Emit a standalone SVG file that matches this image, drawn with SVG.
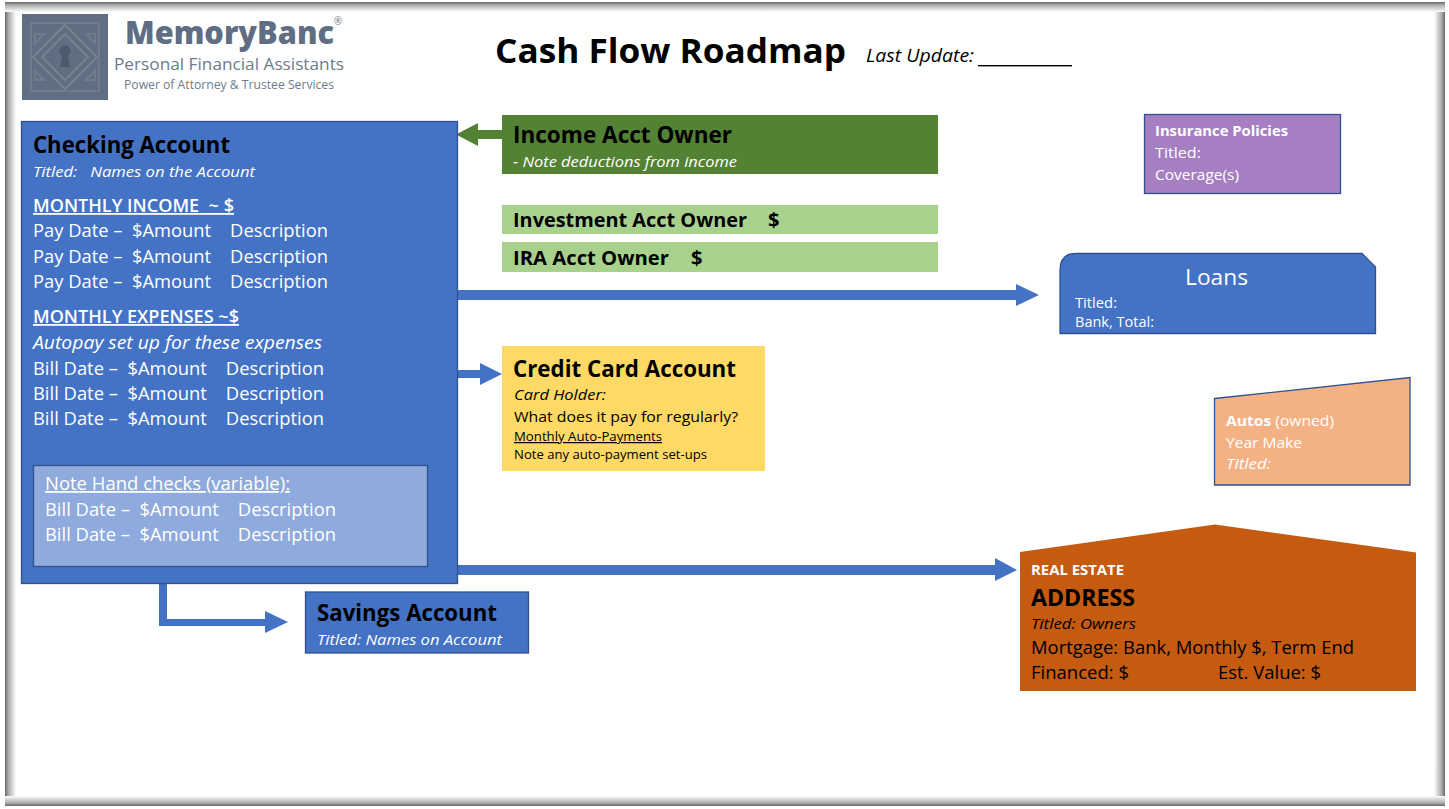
<svg xmlns="http://www.w3.org/2000/svg" width="1449" height="809" viewBox="0 0 1449 809">
<style>
text{font-family:"Open Sans","Noto Sans","Liberation Sans",sans-serif;white-space:pre}
.w{fill:#fff}.k{fill:#000}.i{font-style:italic}.b{font-weight:600}.u{text-decoration:underline}
.s19{font-size:18px}.s16{font-size:15px}.s14{font-size:14px}.s24{font-size:23px;font-weight:700}
.blue{fill:#4472c4;stroke:#2f528f;stroke-width:1.3}
.conn{fill:#4472c4}
.logo{fill:none;stroke:#76838f;stroke-width:2}
</style>
<defs>
<linearGradient id="gl" x1="0" x2="1" y1="0" y2="0"><stop offset="0" stop-color="#666"/><stop offset=".3" stop-color="#aaa"/><stop offset="1" stop-color="#fff"/></linearGradient>
<linearGradient id="gr" x1="1" x2="0" y1="0" y2="0"><stop offset="0" stop-color="#666"/><stop offset=".3" stop-color="#aaa"/><stop offset="1" stop-color="#fff"/></linearGradient>
<linearGradient id="gt" x1="0" x2="0" y1="0" y2="1"><stop offset="0" stop-color="#666"/><stop offset=".3" stop-color="#aaa"/><stop offset="1" stop-color="#fff"/></linearGradient>
<linearGradient id="gb" x1="0" x2="0" y1="1" y2="0"><stop offset="0" stop-color="#666"/><stop offset=".3" stop-color="#aaa"/><stop offset="1" stop-color="#fff"/></linearGradient>
</defs>
<rect width="1449" height="809" fill="#fff"/>
<g id="frame">
<rect x="5" y="2" width="11" height="804" fill="url(#gl)"/>
<rect x="1434" y="2" width="11" height="804" fill="url(#gr)"/>
<rect x="5" y="2" width="1440" height="10" fill="url(#gt)"/>
<rect x="5" y="796" width="1440" height="10" fill="url(#gb)"/>
</g>
<g id="logo">
<rect x="22" y="14" width="86" height="86" fill="#5f6e82"/>
<rect x="31" y="23" width="68" height="68" class="logo" opacity=".6"/>
<path d="M65 25L97 57L65 89L33 57Z" class="logo"/>
<path d="M65 34L88 57L65 80L42 57Z" class="logo"/>
<path d="M44 34H35V43ZM86 34H95V43ZM44 80H35V71ZM86 80H95V71Z" class="logo" opacity=".7"/>
<circle cx="65" cy="51" r="5.500" fill="#4d5a6b"/><path d="M62.500 54H67.500L70 67H60Z" fill="#4d5a6b"/>
<text x="125" y="44" font-size="32" font-weight="800" fill="#5f6e82" textLength="217" lengthAdjust="spacingAndGlyphs">MemoryBanc<tspan font-size="10" font-weight="400" dy="-19">®</tspan></text>
<text x="114" y="70" font-size="17" fill="#6d7b8c" textLength="230" lengthAdjust="spacingAndGlyphs">Personal Financial Assistants</text>
<text x="124" y="89" font-size="12" fill="#6d7b8c" textLength="210" lengthAdjust="spacingAndGlyphs">Power of Attorney &amp; Trustee Services</text>
</g>
<g id="title">
<text x="495" y="63" font-size="34" font-weight="700" class="k" textLength="351" lengthAdjust="spacingAndGlyphs">Cash Flow Roadmap</text>
<text x="866" y="62" font-size="18" class="k i" textLength="108" lengthAdjust="spacingAndGlyphs">Last Update:</text>
<rect x="978" y="65" width="94" height="1.400" fill="#000"/>
</g>
<g id="connectors">
<path class="conn" d="M457 290H1016V284L1039 295L1016 306V300H457Z"/>
<path class="conn" d="M457 370H480V363L502 374L480 385V378H457Z"/>
<path class="conn" d="M457 565H995V558L1017 570L995 581V575H457Z"/>
<path class="conn" d="M159 583H167V619H265V611L288 622L265 633V626H159Z"/>
<path fill="#548235" d="M502 130H478V123L456 134.500L478 146V139H502Z"/>
</g>
<g id="checking">
<rect class="blue" x="21.500" y="121.500" width="436" height="462"/>
<text x="33" y="153" class="k s24" textLength="197" lengthAdjust="spacingAndGlyphs">Checking Account</text>
<text x="33" y="177" class="w i s16" textLength="222" lengthAdjust="spacingAndGlyphs">Titled:   Names on the Account</text>
<text x="33" y="212" class="w b u s19" textLength="201" lengthAdjust="spacingAndGlyphs">MONTHLY INCOME  ~ $</text>
<text x="33" y="237" class="w s19" textLength="295" lengthAdjust="spacingAndGlyphs">Pay Date –  $Amount    Description</text>
<text x="33" y="262.500" class="w s19" textLength="295" lengthAdjust="spacingAndGlyphs">Pay Date –  $Amount    Description</text>
<text x="33" y="287.500" class="w s19" textLength="295" lengthAdjust="spacingAndGlyphs">Pay Date –  $Amount    Description</text>
<text x="33" y="323" class="w b u s19" textLength="206" lengthAdjust="spacingAndGlyphs">MONTHLY EXPENSES ~$</text>
<text x="33" y="349" class="w i s19" textLength="289" lengthAdjust="spacingAndGlyphs">Autopay set up for these expenses</text>
<text x="33" y="374.500" class="w s19" textLength="291" lengthAdjust="spacingAndGlyphs">Bill Date –  $Amount    Description</text>
<text x="33" y="399.500" class="w s19" textLength="291" lengthAdjust="spacingAndGlyphs">Bill Date –  $Amount    Description</text>
<text x="33" y="424.500" class="w s19" textLength="291" lengthAdjust="spacingAndGlyphs">Bill Date –  $Amount    Description</text>
</g>
<g id="handchecks">
<rect x="33.500" y="465.500" width="394" height="101" fill="#8faadc" stroke="#2f528f" stroke-width="1.3"/>
<text x="45" y="490" class="w u s19" textLength="245" lengthAdjust="spacingAndGlyphs">Note Hand checks (variable):</text>
<text x="45" y="515.500" class="w s19" textLength="291" lengthAdjust="spacingAndGlyphs">Bill Date –  $Amount    Description</text>
<text x="45" y="540.500" class="w s19" textLength="291" lengthAdjust="spacingAndGlyphs">Bill Date –  $Amount    Description</text>
</g>
<g id="income">
<rect x="502" y="115" width="436" height="59" fill="#548235"/>
<text x="513" y="143" class="k s24" textLength="219" lengthAdjust="spacingAndGlyphs">Income Acct Owner</text>
<text x="513" y="167" class="w i s16" textLength="224" lengthAdjust="spacingAndGlyphs">- Note deductions from income</text>
</g>
<g id="investment">
<rect x="502" y="205" width="436" height="29" fill="#a9d18e"/>
<text x="513" y="227" font-size="20" font-weight="700" class="k" textLength="234" lengthAdjust="spacingAndGlyphs">Investment Acct Owner</text>
<text x="768" y="227" font-size="20" font-weight="700" class="k">$</text>
</g>
<g id="ira">
<rect x="502" y="242" width="436" height="30" fill="#a9d18e"/>
<text x="513" y="264.500" font-size="20" font-weight="700" class="k" textLength="156" lengthAdjust="spacingAndGlyphs">IRA Acct Owner</text>
<text x="691" y="264.500" font-size="20" font-weight="700" class="k">$</text>
</g>
<g id="credit">
<rect x="502" y="346" width="263" height="125" fill="#ffd966"/>
<text x="513" y="376.500" class="k s24" textLength="223" lengthAdjust="spacingAndGlyphs">Credit Card Account</text>
<text x="514" y="400" class="k i s14" textLength="92" lengthAdjust="spacingAndGlyphs">Card Holder:</text>
<text x="514" y="422" class="k s16" textLength="224" lengthAdjust="spacingAndGlyphs">What does it pay for regularly?</text>
<text x="514" y="441" font-size="12.500" class="k u" textLength="148" lengthAdjust="spacingAndGlyphs">Monthly Auto-Payments</text>
<text x="514" y="459" font-size="12.500" class="k" textLength="193" lengthAdjust="spacingAndGlyphs">Note any auto-payment set-ups</text>
</g>
<g id="insurance">
<rect x="1144.500" y="114.500" width="196" height="79" fill="#a67fc3" stroke="#2f528f" stroke-width="1.3"/>
<text x="1155" y="136" font-size="14.500" font-weight="700" class="w" textLength="133" lengthAdjust="spacingAndGlyphs">Insurance Policies</text>
<text x="1155" y="158" font-size="15" class="w" textLength="46" lengthAdjust="spacingAndGlyphs">Titled:</text>
<text x="1155" y="180" font-size="15" class="w" textLength="84" lengthAdjust="spacingAndGlyphs">Coverage(s)</text>
</g>
<g id="loans">
<path class="blue" d="M1060 333.500V270Q1060 253.500 1076 253.500H1362L1375.500 267V333.500Z"/>
<text x="1185" y="285" font-size="22" class="w" textLength="63" lengthAdjust="spacingAndGlyphs">Loans</text>
<text x="1075" y="308" font-size="14" class="w" textLength="42" lengthAdjust="spacingAndGlyphs">Titled:</text>
<text x="1075" y="327" font-size="14" class="w" textLength="79" lengthAdjust="spacingAndGlyphs">Bank, Total:</text>
</g>
<g id="autos">
<path d="M1214.500 398.500L1410 377.500V485H1214.500Z" fill="#f4b183" stroke="#2f528f" stroke-width="1.3"/>
<text x="1226" y="426" font-size="15" class="w" textLength="108" lengthAdjust="spacingAndGlyphs"><tspan font-weight="700">Autos</tspan> (owned)</text>
<text x="1226" y="448" font-size="15" class="w" textLength="76" lengthAdjust="spacingAndGlyphs">Year Make</text>
<text x="1226" y="469" font-size="15" class="w i" textLength="45" lengthAdjust="spacingAndGlyphs">Titled:</text>
</g>
<g id="realestate">
<path d="M1020 552L1215 524.500L1416 552.500V691H1020Z" fill="#c55a11"/>
<text x="1031" y="575" font-size="14" font-weight="700" class="w" textLength="93" lengthAdjust="spacingAndGlyphs">REAL ESTATE</text>
<text x="1031" y="606" class="k s24" textLength="104" lengthAdjust="spacingAndGlyphs">ADDRESS</text>
<text x="1031" y="629" class="k i s14" textLength="105" lengthAdjust="spacingAndGlyphs">Titled: Owners</text>
<text x="1031" y="654" class="k s19" textLength="323" lengthAdjust="spacingAndGlyphs">Mortgage: Bank, Monthly $, Term End</text>
<text x="1031" y="679" class="k s19" textLength="98" lengthAdjust="spacingAndGlyphs">Financed: $</text>
<text x="1218" y="679" class="k s19" textLength="103" lengthAdjust="spacingAndGlyphs">Est. Value: $</text>
</g>
<g id="savings">
<rect class="blue" x="305.500" y="592" width="223" height="61"/>
<text x="317" y="621" class="k s24" textLength="180" lengthAdjust="spacingAndGlyphs">Savings Account</text>
<text x="317" y="645" class="w i s16" textLength="185" lengthAdjust="spacingAndGlyphs">Titled: Names on Account</text>
</g>
</svg>
